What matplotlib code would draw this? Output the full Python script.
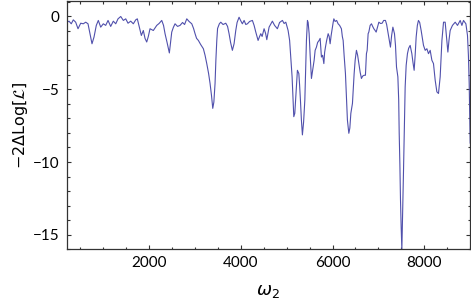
import numpy as np
import matplotlib
matplotlib.use('Agg')
import matplotlib.pyplot as plt
from matplotlib.ticker import MultipleLocator

# values
omega2 = [200, 250, 300, 344, 396, 447, 506, 562, 615, 665, 709, 752, 796, 846, 890,
          942, 999, 1051, 1102, 1160, 1217, 1270, 1320, 1379, 1436, 1488, 1538, 1597,
          1654, 1706, 1741, 1785, 1829, 1872, 1909, 1946, 1981, 2018, 2090, 2165, 2215,
          2274, 2313, 2346, 2390, 2440, 2492, 2527, 2564, 2619, 2673, 2728, 2772, 2820,
          2870, 2929, 2968, 3001, 3034, 3073, 3121, 3182, 3219, 3256, 3295, 3328, 3361,
          3387, 3411, 3437, 3455, 3475, 3492, 3531, 3562, 3612, 3671, 3710, 3743, 3776,
          3815, 3852, 3889, 3918, 3961, 3994, 4033, 4071, 4108, 4143, 4191, 4252, 4289,
          4326, 4376, 4409, 4435, 4464, 4507, 4540, 4566, 4616, 4688, 4736, 4797, 4845,
          4907, 4944, 4981, 5031, 5064, 5086, 5118, 5140, 5155, 5177, 5195, 5212, 5234,
          5265, 5282, 5300, 5321, 5343, 5369, 5396, 5413, 5431, 5453, 5468, 5490, 5512,
          5540, 5567, 5599, 5621, 5649, 5675, 5708, 5730, 5758, 5784, 5811, 5828, 5846,
          5872, 5905, 5927, 5948, 5970, 5992, 6014, 6029, 6057, 6090, 6122, 6155, 6194,
          6214, 6232, 6253, 6282, 6304, 6325, 6356, 6378, 6400, 6435, 6454, 6472, 6494,
          6522, 6548, 6574, 6603, 6631, 6657, 6690, 6718, 6740, 6756, 6777, 6792, 6821,
          6850, 6876, 6902, 6930, 6952, 6985, 7011, 7050, 7083, 7116, 7155, 7181, 7203,
          7229, 7264, 7290, 7317, 7352, 7374, 7396, 7426, 7444, 7455, 7470, 7483, 7498,
          7513, 7530, 7548, 7568, 7585, 7607, 7635, 7661, 7694, 7712, 7731, 7755, 7781,
          7803, 7825, 7851, 7875, 7902, 7934, 7960, 7985, 8022, 8059, 8094, 8131, 8168,
          8203, 8223, 8240, 8277, 8312, 8349, 8371, 8387, 8422, 8458, 8495, 8517, 8541,
          8567, 8617, 8677, 8727, 8786, 8823, 8858, 8910, 8945, 8965, 8982, 9004]

dloglik = [-0.43, -0.34, -0.52, -0.25, -0.41, -0.86, -0.48, -0.52, -0.41, -0.52, -1.2,
           -1.89, -1.43, -0.63, -0.29, -0.75, -0.52, -0.63, -0.29, -0.70, -0.34, -0.52,
           -0.18, -0.02, -0.29, -0.18, -0.48, -0.34, -0.52, -0.25, -0.18, -0.75, -1.32,
           -0.98, -1.52, -1.77, -1.39, -0.86, -0.98, -0.63, -0.50, -0.29, -0.63, -1.2,
           -1.80, -2.52, -1.09, -0.77, -0.52, -0.70, -0.63, -0.43, -0.57, -0.18, -0.36,
           -0.52, -0.84, -1.2, -1.52, -1.66, -1.93, -2.23, -2.68, -3.25, -3.91, -4.61,
           -5.48, -6.32, -5.89, -4.61, -3.02, -1.66, -0.84, -0.52, -0.41, -0.57, -0.48,
           -0.70, -1.2, -1.80, -2.34, -1.89, -0.98, -0.43, -0.07, -0.29, -0.52, -0.29,
           -0.57, -0.52, -0.36, -0.29, -0.63, -1.09, -1.66, -1.39, -1.2, -1.39, -0.86,
           -1.18, -1.61, -0.75, -0.34, -0.63, -0.86, -0.43, -0.29, -0.50, -0.41, -0.98,
           -1.66, -2.68, -4.16, -5.75, -6.89, -6.66, -5.75, -4.85, -3.71, -3.93, -4.73,
           -5.75, -7.12, -8.14, -7.26, -5.75, -3.71, -1.66, -0.29, -0.43, -1.2, -2.68,
           -4.27, -3.71, -3.02, -2.34, -2.12, -1.80, -1.66, -1.52, -2.8, -2.68, -3.25,
           -2.48, -2.12, -1.66, -1.2, -1.39, -1.89, -1.32, -0.86, -0.43, -0.18, -0.36,
           -0.29, -0.52, -0.63, -0.86, -1.39, -1.66, -2.68, -3.93, -5.62, -7.12, -8.03,
           -7.67, -6.66, -5.98, -4.94, -3.93, -3.02, -2.34, -2.68, -3.25, -3.84, -4.27,
           -4.11, -4.05, -4.05, -2.57, -2.34, -1.2, -1.09, -0.63, -0.52, -0.70, -0.86,
           -0.98, -1.09, -0.70, -0.41, -0.50, -0.48, -0.29, -0.29, -0.57, -0.98, -1.43,
           -2.12, -1.32, -0.75, -1.2, -2.0, -3.48, -4.16, -5.75, -8.03, -10.19, -12.58,
           -14.49, -16.0, -13.6, -10.76, -7.46, -4.85, -3.37, -2.57, -2.2, -2.0, -2.27,
           -2.57, -3.16, -3.71, -2.68, -1.43, -0.63, -0.29, -0.43, -0.98, -1.52, -2.0,
           -2.34, -2.23, -2.57, -2.34, -3.02, -3.25, -3.84, -4.39, -5.19, -5.30, -4.16,
           -2.68, -1.66, -0.41, -0.41, -1.66, -2.46, -1.66, -0.98, -0.63, -0.41, -0.63,
           -0.29, -0.63, -0.29, -0.52, -1.32, -2.68, -4.6, -8.7]

plt.rcParams['font.family'] = ['Lato', 'DejaVu Sans']
plt.rcParams['mathtext.fontset'] = 'dejavusans'

fig = plt.figure(figsize=(4.71, 3.04), dpi=100)
ax = fig.add_axes([0.1416, 0.1793, 0.8563, 0.8187])

ax.plot(omega2, dloglik, color='#5050ac', lw=0.8)

ax.set_xlim(200, 9000)
ax.set_ylim(-16, 1.07)
ax.xaxis.set_major_locator(MultipleLocator(2000))
ax.xaxis.set_minor_locator(MultipleLocator(500))
ax.yaxis.set_major_locator(MultipleLocator(5))
ax.yaxis.set_minor_locator(MultipleLocator(1))

ax.tick_params(which='both', direction='in', top=True, right=True,
               color='#333333', labelsize=11, width=0.8)
ax.tick_params(which='major', length=3.2, pad=5)
ax.tick_params(which='minor', length=1.8)
for s in ax.spines.values():
    s.set_color('#333333')
    s.set_linewidth(0.9)

ax.set_xlabel(r'$\omega_2$', fontsize=13, labelpad=9)
ax.set_ylabel(r'$-2\Delta\mathrm{Log}[\mathcal{L}]$', fontsize=11.5, labelpad=2)

fig.savefig('out.png', dpi=100)
